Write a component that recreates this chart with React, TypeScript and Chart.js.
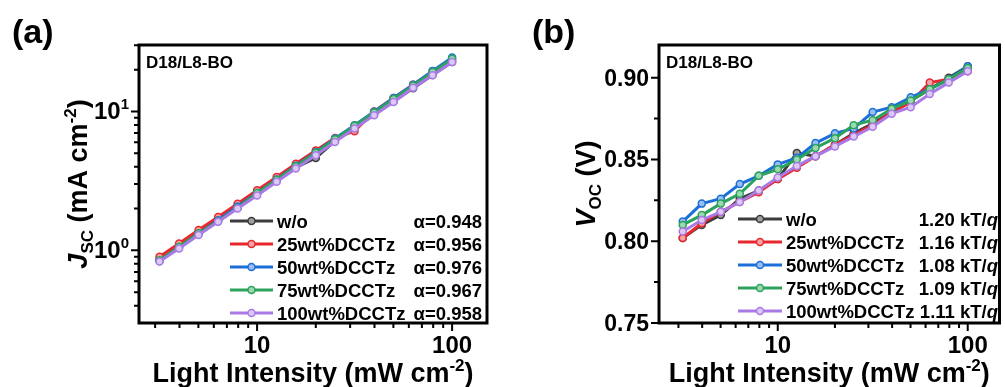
import React, { useEffect, useRef } from 'react';
import { Chart, registerables } from 'chart.js';
Chart.register(...registerables);

const FONT = '"Liberation Sans", Arial, Helvetica, sans-serif';

// Light intensity (mW cm^-2)
const intensity = [3.16, 3.98, 5.01, 6.31, 7.94, 10.0, 12.6, 15.8, 20.0, 25.1, 31.6, 39.8, 50.1, 63.1, 79.4, 100];

const seriesNames = ['w/o', '25wt%DCCTz', '50wt%DCCTz', '75wt%DCCTz', '100wt%DCCTz'];
const alphaLabels = ['α=0.948', 'α=0.956', 'α=0.976', 'α=0.967', 'α=0.958'];
const idealityLabels = ['1.20', '1.16', '1.08', '1.09', '1.11'];
const seriesColors = ['#3c3c3c', '#e8282e', '#1c6fd8', '#2ba35c', '#a97ae6'];
const markerFills = ['#a0a0a0', '#f6a3a5', '#98bff0', '#9dd8b3', '#ddc9f6'];

// Panel (a): Jsc (mA cm^-2)
const jscWo = [0.86, 1.07, 1.33, 1.66, 2.06, 2.56, 3.18, 3.96, 4.62, 6.13, 7.62, 9.49, 11.8, 14.7, 18.3, 22.7];
const jsc25 = [0.90, 1.12, 1.40, 1.74, 2.17, 2.71, 3.37, 4.20, 5.23, 6.45, 7.20, 10.0, 12.5, 15.6, 19.4, 23.4];
const jsc50 = [0.84, 1.05, 1.32, 1.65, 2.07, 2.59, 3.24, 4.06, 5.08, 6.40, 7.96, 9.97, 12.5, 15.6, 19.6, 24.5];
const jsc75 = [0.85, 1.06, 1.33, 1.62, 2.02, 2.59, 3.23, 4.04, 5.05, 6.31, 7.88, 9.84, 12.3, 15.4, 19.2, 24.0];
const jsc100 = [0.83, 1.03, 1.29, 1.61, 2.00, 2.48, 3.12, 3.88, 4.84, 6.04, 7.53, 9.38, 11.7, 14.8, 18.2, 22.7];

// Panel (b): Voc (V)
const vocWo = [0.802, 0.810, 0.816, 0.826, 0.831, 0.838, 0.854, 0.852, 0.859, 0.866, 0.872, 0.879, 0.886, 0.893, 0.900, 0.907];
const voc25 = [0.802, 0.811, 0.818, 0.824, 0.830, 0.838, 0.845, 0.852, 0.859, 0.865, 0.871, 0.879, 0.885, 0.897, 0.899, 0.904];
const voc50 = [0.812, 0.823, 0.826, 0.835, 0.840, 0.847, 0.851, 0.860, 0.866, 0.869, 0.879, 0.882, 0.888, 0.893, 0.899, 0.907];
const voc75 = [0.810, 0.816, 0.823, 0.829, 0.840, 0.844, 0.850, 0.857, 0.863, 0.871, 0.874, 0.881, 0.886, 0.893, 0.899, 0.906];
const voc100 = [0.806, 0.813, 0.818, 0.824, 0.831, 0.839, 0.846, 0.852, 0.858, 0.864, 0.870, 0.878, 0.882, 0.890, 0.897, 0.904];

const xMajorTicks = [10, 100];
const xTickLabels = ['10', '100'];
const xMinorTicks = [3, 4, 5, 6, 7, 8, 9, 20, 30, 40, 50, 60, 70, 80, 90];
const jscMajorTicks = [1, 10];
const jscTickExponents = ['0', '1'];
const jscMinorTicks = [0.4, 0.5, 0.6, 0.7, 0.8, 0.9, 2, 3, 4, 5, 6, 7, 8, 9, 20, 30];
const vocMajorTicks = [0.75, 0.8, 0.85, 0.9];
const vocTickLabels = ['0.75', '0.80', '0.85', '0.90'];
const vocMinorTicks = [0.775, 0.825, 0.875];

type Part = { t: string; size: number; italic?: boolean; dy?: number };

const fontOf = (p: Part) => `${p.italic ? 'italic ' : ''}bold ${p.size}px ${FONT}`;

function partsWidth(ctx: CanvasRenderingContext2D, parts: Part[]) {
  let w = 0;
  for (const p of parts) {
    ctx.font = fontOf(p);
    w += ctx.measureText(p.t).width;
  }
  return w;
}

function drawParts(ctx: CanvasRenderingContext2D, parts: Part[], x: number, y: number, align: 'left' | 'center' | 'right') {
  const w = partsWidth(ctx, parts);
  let cx = align === 'center' ? x - w / 2 : align === 'right' ? x - w : x;
  ctx.textAlign = 'left';
  ctx.textBaseline = 'alphabetic';
  for (const p of parts) {
    ctx.font = fontOf(p);
    ctx.fillText(p.t, cx, y + (p.dy || 0));
    cx += ctx.measureText(p.t).width;
  }
}

type Spec = {
  padding: { left: number; right: number; top: number; bottom: number };
  xMin: number;
  xMax: number;
  yType: 'logarithmic' | 'linear';
  yMin: number;
  yMax: number;
  series: number[][];
  yMajor: number[];
  yMajorLabels: Part[][];
  yMinor: number[];
  yTitle: Part[];
  yTitleX: number;
  panelLabel: string;
  panelLabelX: number;
  legendLineX0: number;
  legendLineX1: number;
  legendTextX: number;
  legendValueRight: number;
  legendY0: number;
  legendValues: Part[][];
};

const LEGEND_SIZE = 18.5;

function makePlugin(spec: Spec) {
  return {
    id: 'decor',
    afterDraw(chart: any) {
      const ctx: CanvasRenderingContext2D = chart.ctx;
      const { left, right, top, bottom } = chart.chartArea;
      const xs = chart.scales.x;
      const ys = chart.scales.y;
      ctx.save();
      ctx.fillStyle = '#000';
      ctx.strokeStyle = '#000';
      // frame
      ctx.lineWidth = 3;
      ctx.strokeRect(left, top, right - left, bottom - top);
      // ticks
      ctx.lineWidth = 2;
      ctx.beginPath();
      for (const v of xMajorTicks) {
        const px = xs.getPixelForValue(v);
        ctx.moveTo(px, bottom);
        ctx.lineTo(px, bottom + 8);
      }
      for (const v of xMinorTicks) {
        if (v < spec.xMin || v > spec.xMax) continue;
        const px = xs.getPixelForValue(v);
        ctx.moveTo(px, bottom);
        ctx.lineTo(px, bottom + 5);
      }
      for (const v of spec.yMajor) {
        const py = ys.getPixelForValue(v);
        ctx.moveTo(left, py);
        ctx.lineTo(left - 8, py);
      }
      for (const v of spec.yMinor) {
        const py = ys.getPixelForValue(v);
        ctx.moveTo(left, py);
        ctx.lineTo(left - 5, py);
      }
      ctx.stroke();
      // x tick labels
      xMajorTicks.forEach((v, i) => {
        drawParts(ctx, [{ t: xTickLabels[i], size: 24 }], xs.getPixelForValue(v), 353, 'center');
      });
      // y tick labels
      spec.yMajor.forEach((v, i) => {
        drawParts(ctx, spec.yMajorLabels[i], left - 10, ys.getPixelForValue(v) + 8, 'right');
      });
      // x title
      drawParts(
        ctx,
        [
          { t: 'Light Intensity (mW cm', size: 27 },
          { t: '-2', size: 17, dy: -11 },
          { t: ')', size: 27 },
        ],
        (left + right) / 2,
        382,
        'center'
      );
      // y title (rotated)
      ctx.save();
      ctx.translate(spec.yTitleX, (top + bottom) / 2);
      ctx.rotate(-Math.PI / 2);
      drawParts(ctx, spec.yTitle, 0, 0, 'center');
      ctx.restore();
      // panel label
      drawParts(ctx, [{ t: spec.panelLabel, size: 34 }], spec.panelLabelX, 43, 'left');
      // sample label
      drawParts(ctx, [{ t: 'D18/L8-BO', size: 17 }], left + 7, 68, 'left');
      // legend
      seriesNames.forEach((name, i) => {
        const cy = spec.legendY0 + i * 23;
        ctx.strokeStyle = seriesColors[i];
        ctx.lineWidth = 3;
        ctx.beginPath();
        ctx.moveTo(spec.legendLineX0, cy);
        ctx.lineTo(spec.legendLineX1, cy);
        ctx.stroke();
        ctx.beginPath();
        ctx.arc((spec.legendLineX0 + spec.legendLineX1) / 2, cy, 3.5, 0, Math.PI * 2);
        ctx.fillStyle = markerFills[i];
        ctx.fill();
        ctx.lineWidth = 1.5;
        ctx.stroke();
        ctx.fillStyle = '#000';
        drawParts(ctx, [{ t: name, size: LEGEND_SIZE }], spec.legendTextX, cy + 7, 'left');
        drawParts(ctx, spec.legendValues[i], spec.legendValueRight, cy + 7, 'right');
      });
      ctx.restore();
    },
  };
}

function buildChart(canvas: HTMLCanvasElement, spec: Spec) {
  const datasets = spec.series.map((vals, i) => ({
    label: seriesNames[i],
    data: intensity.map((x, k) => ({ x, y: vals[k] })),
    order: seriesNames.length - i,
    borderColor: seriesColors[i],
    backgroundColor: markerFills[i],
    pointBackgroundColor: markerFills[i],
    pointBorderColor: seriesColors[i],
    pointBorderWidth: 1.5,
    pointRadius: 3.5,
    borderWidth: 3,
    tension: 0,
    fill: false,
    clip: false as any,
  }));
  return new Chart(canvas, {
    type: 'line',
    data: { datasets },
    options: {
      animation: false,
      responsive: false,
      layout: { padding: spec.padding },
      plugins: { legend: { display: false }, tooltip: { enabled: false } },
      scales: {
        x: { type: 'logarithmic', min: spec.xMin, max: spec.xMax, display: false },
        y: { type: spec.yType, min: spec.yMin, max: spec.yMax, display: false },
      },
    },
    plugins: [makePlugin(spec)],
  } as any);
}

const specA: Spec = {
  padding: { left: 139, right: 1005 - 487, top: 45, bottom: 387 - 323 },
  xMin: 2.48,
  xMax: 151,
  yType: 'logarithmic',
  yMin: 0.311,
  yMax: 30.1,
  series: [jscWo, jsc25, jsc50, jsc75, jsc100],
  yMajor: jscMajorTicks,
  yMajorLabels: jscTickExponents.map((e) => [
    { t: '10', size: 24 },
    { t: e, size: 15, dy: -10 },
  ]),
  yMinor: jscMinorTicks,
  yTitle: [
    { t: 'J', size: 27, italic: true },
    { t: 'SC', size: 17, dy: 6 },
    { t: ' (mA cm', size: 27 },
    { t: '-2', size: 17, dy: -11 },
    { t: ')', size: 27 },
  ],
  yTitleX: 87,
  panelLabel: '(a)',
  panelLabelX: 12,
  legendLineX0: 230,
  legendLineX1: 273,
  legendTextX: 277,
  legendValueRight: 482,
  legendY0: 221,
  legendValues: alphaLabels.map((a) => [{ t: a, size: LEGEND_SIZE }]),
};

const specB: Spec = {
  padding: { left: 659, right: 2, top: 45, bottom: 387 - 323 },
  xMin: 2.37,
  xMax: 147,
  yType: 'linear',
  yMin: 0.75,
  yMax: 0.92,
  series: [vocWo, voc25, voc50, voc75, voc100],
  yMajor: vocMajorTicks,
  yMajorLabels: vocTickLabels.map((t) => [{ t, size: 23 }]),
  yMinor: vocMinorTicks,
  yTitle: [
    { t: 'V', size: 27, italic: true },
    { t: 'OC', size: 17, dy: 6 },
    { t: ' (V)', size: 27 },
  ],
  yTitleX: 595,
  panelLabel: '(b)',
  panelLabelX: 532,
  legendLineX0: 738,
  legendLineX1: 782,
  legendTextX: 786,
  legendValueRight: 998,
  legendY0: 219,
  legendValues: idealityLabels.map((n) => [
    { t: n + ' kT/', size: LEGEND_SIZE },
    { t: 'q', size: LEGEND_SIZE, italic: true },
  ]),
};

export default function App() {
  const refA = useRef<HTMLCanvasElement>(null);
  const refB = useRef<HTMLCanvasElement>(null);
  useEffect(() => {
    const a = buildChart(refA.current!, specA);
    const b = buildChart(refB.current!, specB);
    return () => {
      a.destroy();
      b.destroy();
    };
  }, []);
  const canvasStyle: React.CSSProperties = { position: 'absolute', left: 0, top: 0, width: 1005, height: 387 };
  return (
    <div style={{ position: 'absolute', left: 0, top: 0, width: 1005, height: 387, background: '#fff', overflow: 'hidden' }}>
      <canvas ref={refA} width={1005} height={387} style={canvasStyle} />
      <canvas ref={refB} width={1005} height={387} style={canvasStyle} />
    </div>
  );
}
